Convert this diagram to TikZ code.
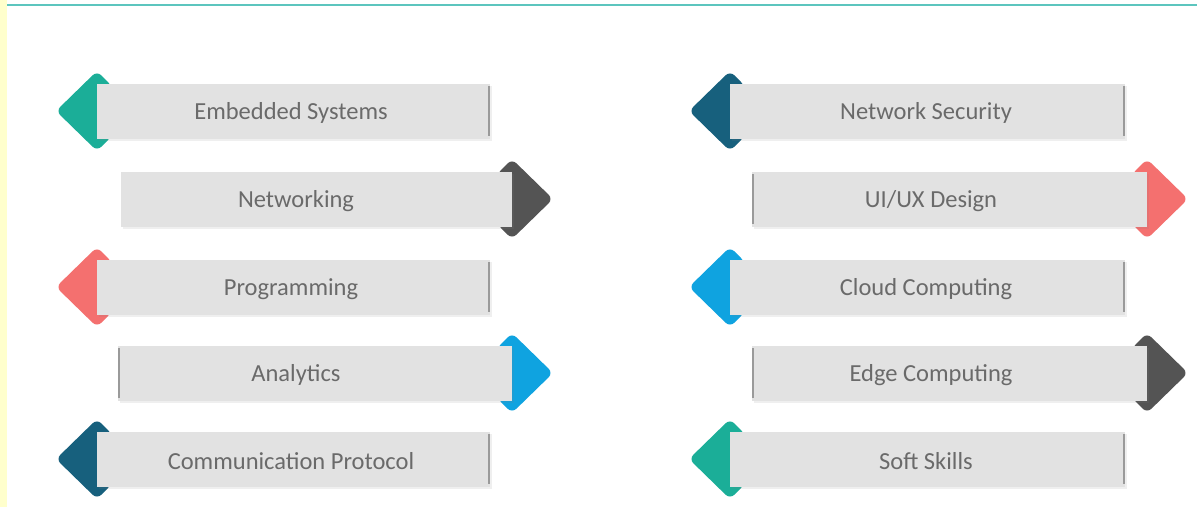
\documentclass[tikz,border=0pt]{standalone}
\usepackage{fontspec}
\setmainfont{Carlito}
\usetikzlibrary{shadows}
\definecolor{cteal}{HTML}{1BAE98}
\definecolor{cdark}{HTML}{545454}
\definecolor{csalmon}{HTML}{F4706F}
\definecolor{cblue}{HTML}{0FA3E0}
\definecolor{cnavy}{HTML}{17607D}
\definecolor{boxgray}{HTML}{E2E2E2}
\definecolor{txtgray}{HTML}{6A6A6A}
\definecolor{edgegray}{HTML}{9A9A9A}
\definecolor{topline}{HTML}{5CC5BE}
\definecolor{sideyellow}{HTML}{FFFFCC}
\tikzset{
  itembox/.style={fill=boxgray, draw=none, inner sep=0pt, minimum height=55pt,
    drop shadow={opacity=0.12, shadow xshift=1.5pt, shadow yshift=-2pt}},
  itemtext/.style={text=txtgray, font=\fontsize{24.5}{28}\selectfont, inner sep=0pt},
  edgeline/.style={draw=edgegray, line width=2.5pt},
  tipshape/.style={rounded corners=6pt}
}
% #1 name, #2 left x, #3 right x, #4 center y, #5 colour, #6 text, #7 text x
\newcommand\leftitem[7]{%
  \fill[tipshape, #5] ({#2-41},#4) -- (#2,{#4-40}) -- ({#2+15},{#4-25}) -- ({#2+15},{#4+25}) -- (#2,{#4+40}) -- cycle;
  \node[itembox, minimum width={(#3-#2)*1pt}] (#1) at ({(#2+#3)/2},#4) {};
  \draw[edgeline] ([xshift=-1.2pt,yshift=-3pt]#1.north east) -- ([xshift=-1.2pt,yshift=3pt]#1.south east);
  \node[itemtext] (#1-t) at (#7,{#4+2}) {#6};
}
% #8: draw left edge line (1) or not (0)
\newcommand\rightitem[8]{%
  \fill[tipshape, #5] ({#3+41},#4) -- (#3,{#4-40}) -- ({#3-15},{#4-25}) -- ({#3-15},{#4+25}) -- (#3,{#4+40}) -- cycle;
  \node[itembox, minimum width={(#3-#2)*1pt}] (#1) at ({(#2+#3)/2},#4) {};
  \ifnum#8=1
  \draw[edgeline] ([xshift=1.2pt,yshift=-3pt]#1.north west) -- ([xshift=1.2pt,yshift=3pt]#1.south west);
  \fi
  \node[itemtext] (#1-t) at (#7,{#4+2}) {#6};
}
\begin{document}
\begin{tikzpicture}[x=1pt,y=-1pt]
\useasboundingbox (0,0) rectangle (1197,507);
\fill[white] (0,0) rectangle (1197,507);
\fill[sideyellow] (0,0) rectangle (7,507);
\draw[topline, line width=2pt] (7,5) -- (1197,5);

% left column
\leftitem{emb}{97}{490}{111}{cteal}{Embedded Systems}{291}
\rightitem{net}{121}{512}{199}{cdark}{Networking}{296}{0}
\leftitem{prog}{97}{490}{287}{csalmon}{Programming}{291}
\rightitem{ana}{118}{512}{373}{cblue}{Analytics}{296}{1}
\leftitem{comm}{97}{490}{459}{cnavy}{Communication Protocol}{291}

% right column
\leftitem{sec}{730}{1125}{111}{cnavy}{Network Security}{926}
\rightitem{ui}{752}{1147}{199}{csalmon}{UI/UX Design}{931}{1}
\leftitem{cloud}{730}{1125}{287}{cblue}{Cloud Computing}{926}
\rightitem{edge}{752}{1147}{373}{cdark}{Edge Computing}{931}{1}
\leftitem{soft}{730}{1125}{459}{cteal}{Soft Skills}{926}
\end{tikzpicture}
\end{document}
